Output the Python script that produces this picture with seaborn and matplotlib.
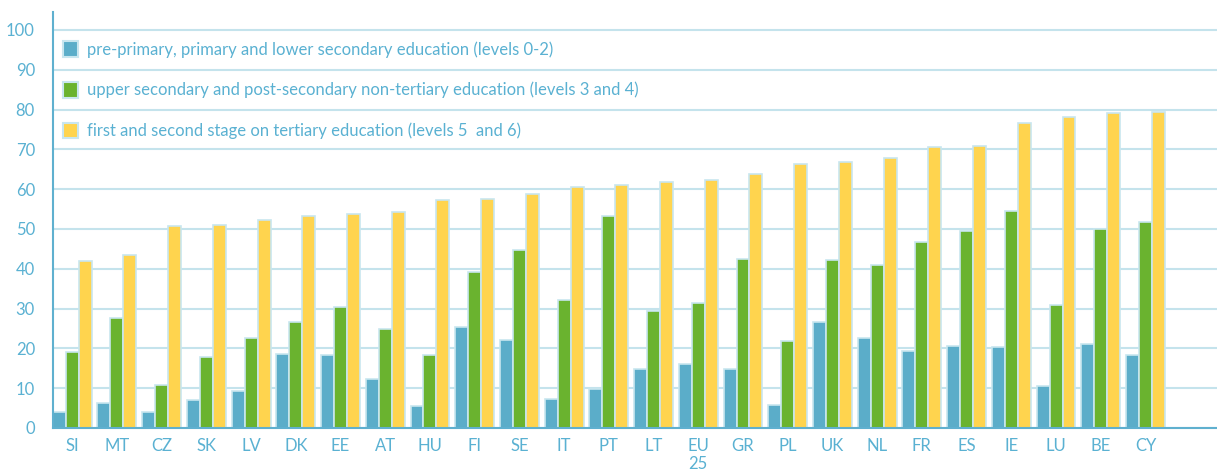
import matplotlib
matplotlib.use("Agg")
import matplotlib.pyplot as plt
from matplotlib.patches import Patch
import seaborn as sns
import pandas as pd

countries = ["SI", "MT", "CZ", "SK", "LV", "DK", "EE", "AT", "HU", "FI", "SE", "IT", "PT",
             "LT", "EU\n25", "GR", "PL", "UK", "NL", "FR", "ES", "IE", "LU", "BE", "CY"]
levels_0_2 = [3.9, 6.2, 4.0, 7.0, 9.3, 18.6, 18.3, 12.3, 5.6, 25.3, 22.2, 7.3, 9.9,
              14.9, 16.1, 14.9, 5.9, 26.6, 22.5, 19.4, 20.6, 20.3, 10.6, 21.1, 18.4]
levels_3_4 = [19.0, 27.6, 10.9, 17.9, 22.5, 26.6, 30.4, 24.9, 18.3, 39.2, 44.8, 32.2, 53.3,
              29.4, 31.4, 42.5, 21.9, 42.2, 41.0, 46.8, 49.4, 54.6, 31.0, 50.0, 51.7]
levels_5_6 = [42.0, 43.5, 50.7, 50.9, 52.3, 53.3, 53.7, 54.3, 57.3, 57.6, 58.8, 60.5, 61.1,
              61.9, 62.3, 63.7, 66.4, 66.9, 67.8, 70.5, 70.9, 76.5, 78.0, 79.1, 79.3]
series_names = [
    "pre-primary, primary and lower secondary education (levels 0-2)",
    "upper secondary and post-secondary non-tertiary education (levels 3 and 4)",
    "first and second stage on tertiary education (levels 5  and 6)",
]
y_ticks = [0, 10, 20, 30, 40, 50, 60, 70, 80, 90, 100]

colors = ["#5BADC9", "#6AB32F", "#FFD44E"]
text_color = "#5AB1D2"
grid_color = "#C4E3EC"
edge_color = "#C8E6EF"

df = pd.DataFrame({
    "country": countries * 3,
    "value": levels_0_2 + levels_3_4 + levels_5_6,
    "level": [series_names[0]] * len(countries) + [series_names[1]] * len(countries)
             + [series_names[2]] * len(countries),
})

sns.set_theme(style="white")
plt.rcParams["font.family"] = ["Lato", "DejaVu Sans"]

fig = plt.figure(figsize=(12.17, 4.74), dpi=100)
ax = fig.add_axes([53 / 1217, 1 - 428 / 474, 1 - 53 / 1217, (428 - 12) / 474])

sns.barplot(data=df, x="country", y="value", hue="level", palette=colors,
            order=countries, hue_order=series_names, width=0.87, gap=0, saturation=1,
            edgecolor=edge_color, linewidth=1.2, ax=ax, legend=False, zorder=3)

ax.set_xlim(-0.43, 25.6)
ax.set_ylim(0, 104.5)
ax.set_yticks(y_ticks)
ax.yaxis.grid(True, color=grid_color, linewidth=1.5, zorder=0)
ax.xaxis.grid(False)
ax.set_axisbelow(True)
for s in ["top", "right"]:
    ax.spines[s].set_visible(False)
for s in ["left", "bottom"]:
    ax.spines[s].set_color("#5FB0CF")
    ax.spines[s].set_linewidth(1.5)
    ax.spines[s].set_zorder(5)
ax.tick_params(axis="y", length=0, pad=13, labelsize=12, labelcolor=text_color)
ax.tick_params(axis="x", length=0, pad=7, labelsize=12, labelcolor=text_color)
ax.set_xlabel("")
ax.set_ylabel("")

handles = [Patch(facecolor=c, edgecolor=edge_color, linewidth=1.5) for c in colors]
leg = ax.legend(handles, series_names, loc="upper left", bbox_to_anchor=(0.0086, 0.93),
                frameon=False, fontsize=12, handlelength=0.9, handleheight=1.08,
                handletextpad=0.55, labelspacing=1.45, borderpad=0, borderaxespad=0)
for t in leg.get_texts():
    t.set_color(text_color)

fig.savefig("out.png", dpi=100)
